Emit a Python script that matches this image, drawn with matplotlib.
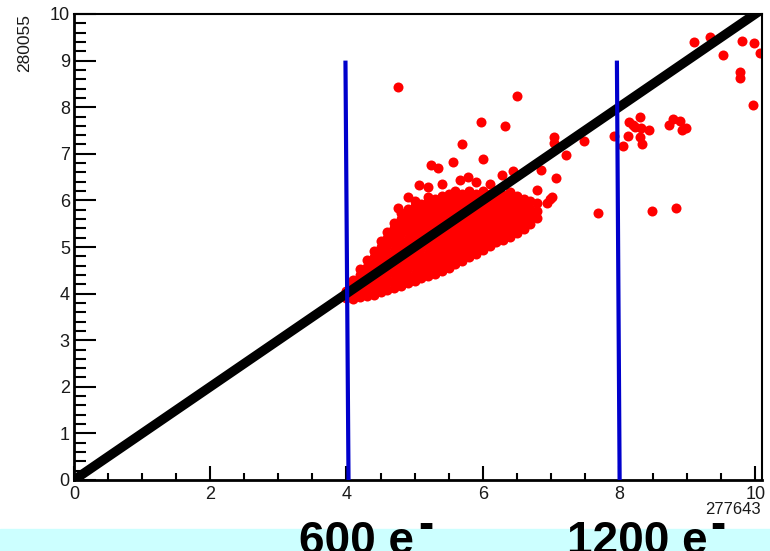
import matplotlib
matplotlib.use("Agg")
import matplotlib.pyplot as plt
from matplotlib.ticker import MultipleLocator
from matplotlib.patches import Rectangle

plt.rcParams["font.family"] = ["Liberation Sans", "DejaVu Sans"]

# dense core of the scatter, read column by column (x: list of y)
core_columns = [
    (4.00, [3.90, 4.05]),
    (4.10, [3.88, 4.02, 4.18, 4.30]),
    (4.20, [3.92, 4.08, 4.24, 4.40, 4.52]),
    (4.30, [3.95, 4.10, 4.26, 4.42, 4.58, 4.72]),
    (4.40, [3.98, 4.14, 4.30, 4.46, 4.62, 4.78, 4.92]),
    (4.50, [4.03, 4.19, 4.35, 4.51, 4.67, 4.83, 4.99, 5.12]),
    (4.60, [4.08, 4.24, 4.40, 4.56, 4.72, 4.88, 5.04, 5.20, 5.33]),
    (4.70, [4.12, 4.28, 4.44, 4.60, 4.76, 4.92, 5.08, 5.24, 5.40, 5.52]),
    (4.80, [4.17, 4.33, 4.49, 4.65, 4.81, 4.97, 5.13, 5.29, 5.45, 5.61, 5.72]),
    (4.90, [4.22, 4.38, 4.54, 4.70, 4.86, 5.02, 5.18, 5.34, 5.50, 5.66, 5.82]),
    (5.00, [4.27, 4.43, 4.59, 4.75, 4.91, 5.07, 5.23, 5.39, 5.55, 5.71, 5.87, 5.98]),
    (5.10, [4.33, 4.49, 4.65, 4.81, 4.97, 5.13, 5.29, 5.45, 5.61, 5.77, 5.93]),
    (5.20, [4.38, 4.54, 4.70, 4.86, 5.02, 5.18, 5.34, 5.50, 5.66, 5.82, 5.98, 6.08]),
    (5.30, [4.43, 4.59, 4.75, 4.91, 5.07, 5.23, 5.39, 5.55, 5.71, 5.87, 6.03]),
    (5.40, [4.49, 4.65, 4.81, 4.97, 5.13, 5.29, 5.45, 5.61, 5.77, 5.93, 6.09]),
    (5.50, [4.56, 4.72, 4.88, 5.04, 5.20, 5.36, 5.52, 5.68, 5.84, 6.00, 6.14]),
    (5.60, [4.63, 4.79, 4.95, 5.11, 5.27, 5.43, 5.59, 5.75, 5.91, 6.07, 6.20]),
    (5.70, [4.70, 4.86, 5.02, 5.18, 5.34, 5.50, 5.66, 5.82, 5.98, 6.14]),
    (5.80, [4.78, 4.94, 5.10, 5.26, 5.42, 5.58, 5.74, 5.90, 6.06, 6.20]),
    (5.90, [4.86, 5.02, 5.18, 5.34, 5.50, 5.66, 5.82, 5.98, 6.14]),
    (6.00, [4.94, 5.10, 5.26, 5.42, 5.58, 5.74, 5.90, 6.06, 6.20]),
    (6.10, [5.02, 5.18, 5.34, 5.50, 5.66, 5.82, 5.98, 6.14]),
    (6.20, [5.10, 5.26, 5.42, 5.58, 5.74, 5.90, 6.06, 6.20]),
    (6.30, [5.16, 5.32, 5.48, 5.64, 5.80, 5.96, 6.12]),
    (6.40, [5.22, 5.38, 5.54, 5.70, 5.86, 6.02, 6.18]),
    (6.50, [5.30, 5.46, 5.62, 5.78, 5.94, 6.10]),
    (6.60, [5.38, 5.54, 5.70, 5.86, 6.02]),
    (6.70, [5.50, 5.66, 5.82, 5.98]),
    (6.80, [5.62, 5.78, 5.94]),
]

# isolated points around the core and at high values
outlier_x = [4.75, 4.91, 5.06, 5.24, 5.34, 5.20, 5.40, 5.66, 5.78, 5.56, 5.90, 6.00,
             6.10, 5.70, 5.98, 6.32, 6.51, 6.29, 6.44, 6.86, 6.79, 6.99, 6.94,
             6.69, 7.04, 7.04, 7.23, 7.07, 7.01, 7.48, 5.56, 4.75,
             7.92, 8.06, 8.15, 8.24, 8.31, 8.33, 8.14, 8.31, 8.34, 8.44, 8.20,
             8.73, 8.80, 8.89, 8.92, 8.99,
             7.69, 8.48, 8.84,
             9.10, 9.33, 9.80, 9.98, 10.07, 9.53, 9.77, 9.77, 9.97]
outlier_y = [5.83, 6.07, 6.32, 6.75, 6.69, 6.28, 6.35, 6.44, 6.51, 6.83, 6.40, 6.89,
             6.35, 7.20, 7.69, 7.60, 8.24, 6.55, 6.64, 6.65, 6.22, 6.04, 5.94,
             5.65, 7.37, 7.23, 6.97, 6.47, 6.07, 7.28, 4.71, 8.43,
             7.39, 7.17, 7.69, 7.58, 7.78, 7.55, 7.38, 7.37, 7.21, 7.51, 7.62,
             7.62, 7.74, 7.71, 7.51, 7.55,
             5.74, 5.78, 5.83,
             9.39, 9.50, 9.41, 9.37, 9.16, 9.13, 8.76, 8.62, 8.05]

diag_x = [0, 10]
diag_y = [0, 10]

# the two hand-drawn cuts (slightly slanted)
cut_x_top = [3.985, 7.97]
cut_x_bottom = [4.03, 8.01]
cut_y_top = 9.0
cut_labels = ["600 e", "1200 e"]

x_title = "277643"
y_title = "280055"

core_x = []
core_y = []
for cx, ys in core_columns:
    for cy in ys:
        core_x.append(cx)
        core_y.append(cy)

fig = plt.figure(figsize=(7.7, 5.51), dpi=100)
ax = fig.add_axes([74 / 770, 1 - 480 / 551, 688 / 770, 466 / 551])

ax.scatter(core_x + outlier_x, core_y + outlier_y, s=52, color="#ff0000",
           linewidths=0, zorder=2)
ax.plot(diag_x, diag_y, color="black", lw=6.8, zorder=3)
for xt, xb in zip(cut_x_top, cut_x_bottom):
    ax.plot([xt, xb], [cut_y_top, 0], color="#0000cc", lw=3, zorder=4,
            clip_on=False, solid_capstyle="butt")

ax.set_xlim(0, 10.1)
ax.set_ylim(0, 10)
ax.xaxis.set_major_locator(MultipleLocator(2))
ax.xaxis.set_minor_locator(MultipleLocator(0.5))
ax.yaxis.set_major_locator(MultipleLocator(1))
ax.yaxis.set_minor_locator(MultipleLocator(0.2))

ax.tick_params(axis="both", which="both", direction="in", top=False, right=False,
               width=1.5, colors="black", labelcolor="#1a1a1a", labelsize=13)
ax.tick_params(axis="x", which="major", length=10, pad=4)
ax.tick_params(axis="x", which="minor", length=5)
ax.tick_params(axis="y", which="major", length=16, pad=3)
ax.tick_params(axis="y", which="minor", length=8.5)

for side in ["left", "bottom"]:
    ax.spines[side].set_linewidth(2)
for side in ["top", "right"]:
    ax.spines[side].set_linewidth(1.5)

fig.text(0.988, 1 - 510 / 551, x_title, ha="right", va="center", fontsize=12,
         color="#1a1a1a")
fig.text(25 / 770, 1 - 14 / 551, y_title, ha="center", va="top", rotation=90,
         fontsize=12.5, color="#1a1a1a")

# light cyan band at the bottom with the charge labels
fig.patches.append(Rectangle((0, 0), 1, 22 / 551, transform=fig.transFigure,
                             color="#ccffff", zorder=0))
fig.text(299 / 770, -3 / 551, cut_labels[0], fontsize=33, fontweight="bold",
         ha="left", va="baseline")
fig.text(418 / 770, (551 - 538) / 551, "-", fontsize=33, fontweight="bold",
         ha="left", va="baseline")
fig.text(567 / 770, -3 / 551, cut_labels[1], fontsize=33, fontweight="bold",
         ha="left", va="baseline")
fig.text(710 / 770, (551 - 538) / 551, "-", fontsize=33, fontweight="bold",
         ha="left", va="baseline")

fig.savefig("out.png", dpi=100)
